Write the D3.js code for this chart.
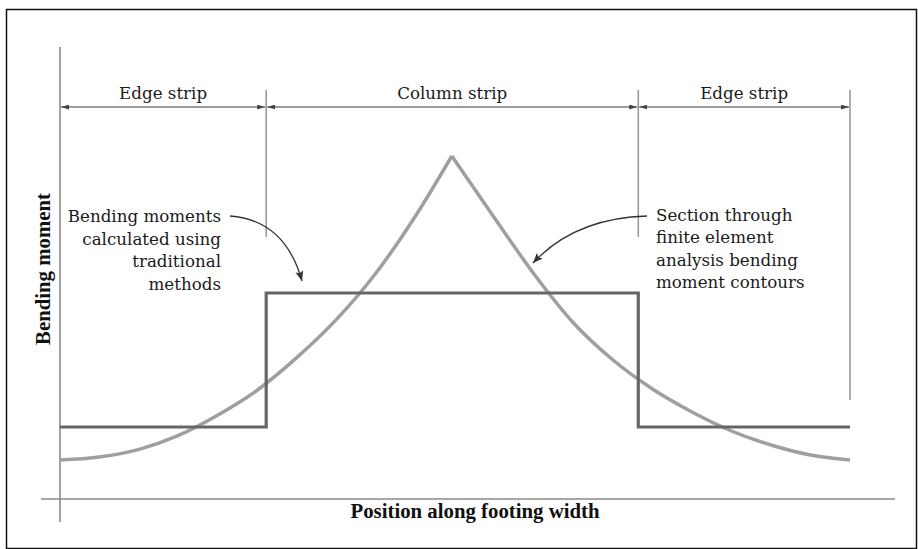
<!DOCTYPE html>
<html>
<head>
    <meta charset="utf-8">
    <title>Bending moment across footing width</title>
    <script src="https://d3js.org/d3.v7.min.js"></script>
    <style>
        body { margin: 0; background: #fff; }
        text { font-family: "DejaVu Serif", serif; fill: #1a1a1a; }
        .title { font-family: "Liberation Serif", serif; font-weight: bold; font-size: 20.8px; fill: #111; }
    </style>
</head>
<body>
    <script>
        var width = 918;
        var height = 549;

        // strips across the footing (position in % of width)
        var stripNames = ["Edge strip", "Column strip", "Edge strip"];
        var stripBounds = [0, 26.1, 73.2, 100];

        // traditional method: one constant moment per strip
        var traditionalMoment = [18, 51.5, 18];

        // finite element section, left half and right half (meet at the column)
        var femLeftPos = [0, 5, 10, 15, 20, 25, 30, 35, 40, 45, 49.6];
        var femLeftMoment = [9.75, 10.5, 12.4, 15.9, 21.0, 27.25, 35.4, 44.9, 56.5, 70.75, 85.75];
        var femRightPos = [49.6, 55, 60, 65, 70, 75, 80, 85, 90, 95, 100];
        var femRightMoment = [85.75, 70.25, 56.25, 44.0, 34.75, 27.5, 21.75, 17.0, 13.5, 11.0, 9.75];

        var leftNote = ["Bending moments", "calculated using", "traditional", "methods"];
        var rightNote = ["Section through", "finite element", "analysis bending", "moment contours"];

        var x = d3.scaleLinear().domain([0, 100]).range([60, 850]);
        var y = d3.scaleLinear().domain([0, 100]).range([499, 99]);

        var svg = d3.select("body").append("svg")
            .attr("width", width)
            .attr("height", height);

        var defs = svg.append("defs");
        defs.append("marker")
            .attr("id", "dim")
            .attr("viewBox", "0 0 10 6")
            .attr("refX", 10).attr("refY", 3)
            .attr("markerWidth", 8).attr("markerHeight", 5)
            .attr("markerUnits", "userSpaceOnUse")
            .attr("orient", "auto-start-reverse")
            .append("path").attr("d", "M0,0L10,3L0,6Z").attr("fill", "#444");
        defs.append("marker")
            .attr("id", "note")
            .attr("viewBox", "0 0 10 8")
            .attr("refX", 10).attr("refY", 4)
            .attr("markerWidth", 11).attr("markerHeight", 8)
            .attr("markerUnits", "userSpaceOnUse")
            .attr("orient", "auto")
            .append("path").attr("d", "M0,0L10,4L0,8L2,4Z").attr("fill", "#333");

        // frame
        svg.append("rect")
            .attr("x", 6.5).attr("y", 9.5)
            .attr("width", 910).attr("height", 539)
            .attr("fill", "none")
            .attr("stroke", "#111")
            .attr("stroke-width", 1.5);

        // axes (plain lines, no ticks)
        svg.append("line")
            .attr("x1", x(0)).attr("x2", x(0))
            .attr("y1", y(113)).attr("y2", y(-5.75))
            .attr("stroke", "#8a8a8a").attr("stroke-width", 1.6);
        svg.append("line")
            .attr("x1", x(-2.4)).attr("x2", x(105.7))
            .attr("y1", y(0)).attr("y2", y(0))
            .attr("stroke", "#8a8a8a").attr("stroke-width", 1.6);

        // strip separators
        svg.selectAll("line.sep")
            .data(stripBounds.slice(1))
            .enter()
            .append("line")
            .attr("class", "sep")
            .attr("x1", function(d) { return x(d); })
            .attr("x2", function(d) { return x(d); })
            .attr("y1", y(102.25))
            .attr("y2", function(d, i) { return i == 2 ? y(24.75) : y(65.5); })
            .attr("stroke", "#9a9a9a")
            .attr("stroke-width", 1.6);

        // dimension lines with arrows
        svg.selectAll("line.dim")
            .data(stripNames)
            .enter()
            .append("line")
            .attr("class", "dim")
            .attr("x1", function(d, i) { return x(stripBounds[i]) + 1; })
            .attr("x2", function(d, i) { return x(stripBounds[i + 1]) - 1; })
            .attr("y1", y(98)).attr("y2", y(98))
            .attr("stroke", "#7a7a7a")
            .attr("stroke-width", 1.5)
            .attr("marker-start", "url(#dim)")
            .attr("marker-end", "url(#dim)");

        svg.selectAll("text.strip")
            .data(stripNames)
            .enter()
            .append("text")
            .attr("class", "strip")
            .attr("x", function(d, i) { return (x(stripBounds[i]) + x(stripBounds[i + 1])) / 2; })
            .attr("y", 98.5)
            .attr("text-anchor", "middle")
            .style("font-size", "16.7px")
            .text(function(d) { return d; });

        // finite element curve
        var line = d3.line()
            .x(function(d) { return x(d[0]); })
            .y(function(d) { return y(d[1]); })
            .curve(d3.curveMonotoneX);
        [d3.zip(femLeftPos, femLeftMoment), d3.zip(femRightPos, femRightMoment)].forEach(function(pts) {
            svg.append("path")
                .attr("d", line(pts))
                .attr("fill", "none")
                .attr("stroke", "#9f9f9f")
                .attr("stroke-width", 3.5)
                .attr("stroke-linejoin", "round");
        });

        // traditional step line
        var steps = [];
        traditionalMoment.forEach(function(m, i) {
            steps.push([stripBounds[i], m]);
            steps.push([stripBounds[i + 1], m]);
        });
        svg.append("path")
            .attr("d", d3.line()
                .x(function(d) { return x(d[0]); })
                .y(function(d) { return y(d[1]); })(steps))
            .attr("fill", "none")
            .attr("stroke", "#666")
            .attr("stroke-width", 3.2)
            .attr("stroke-linejoin", "miter");

        // notes
        svg.append("text")
            .attr("text-anchor", "end")
            .style("font-size", "16.7px")
            .selectAll("tspan")
            .data(leftNote)
            .enter()
            .append("tspan")
            .attr("x", 221)
            .attr("y", function(d, i) { return 221.7 + i * 22.8; })
            .text(function(d) { return d; });

        svg.append("text")
            .attr("text-anchor", "start")
            .style("font-size", "16.7px")
            .selectAll("tspan")
            .data(rightNote)
            .enter()
            .append("tspan")
            .attr("x", 656)
            .attr("y", function(d, i) { return 220.5 + i * 22.5; })
            .text(function(d) { return d; });

        svg.append("path")
            .attr("d", "M230,216Q285,220 302,281")
            .attr("fill", "none")
            .attr("stroke", "#333")
            .attr("stroke-width", 1.3)
            .attr("marker-end", "url(#note)");
        svg.append("path")
            .attr("d", "M647,216Q575,218 533,263")
            .attr("fill", "none")
            .attr("stroke", "#333")
            .attr("stroke-width", 1.3)
            .attr("marker-end", "url(#note)");

        // axis titles
        svg.append("text")
            .attr("class", "title")
            .attr("transform", "translate(50,269) rotate(-90)")
            .attr("text-anchor", "middle")
            .text("Bending moment");
        svg.append("text")
            .attr("class", "title")
            .attr("x", 475)
            .attr("y", 518)
            .attr("text-anchor", "middle")
            .text("Position along footing width");
    </script>
</body>
</html>
